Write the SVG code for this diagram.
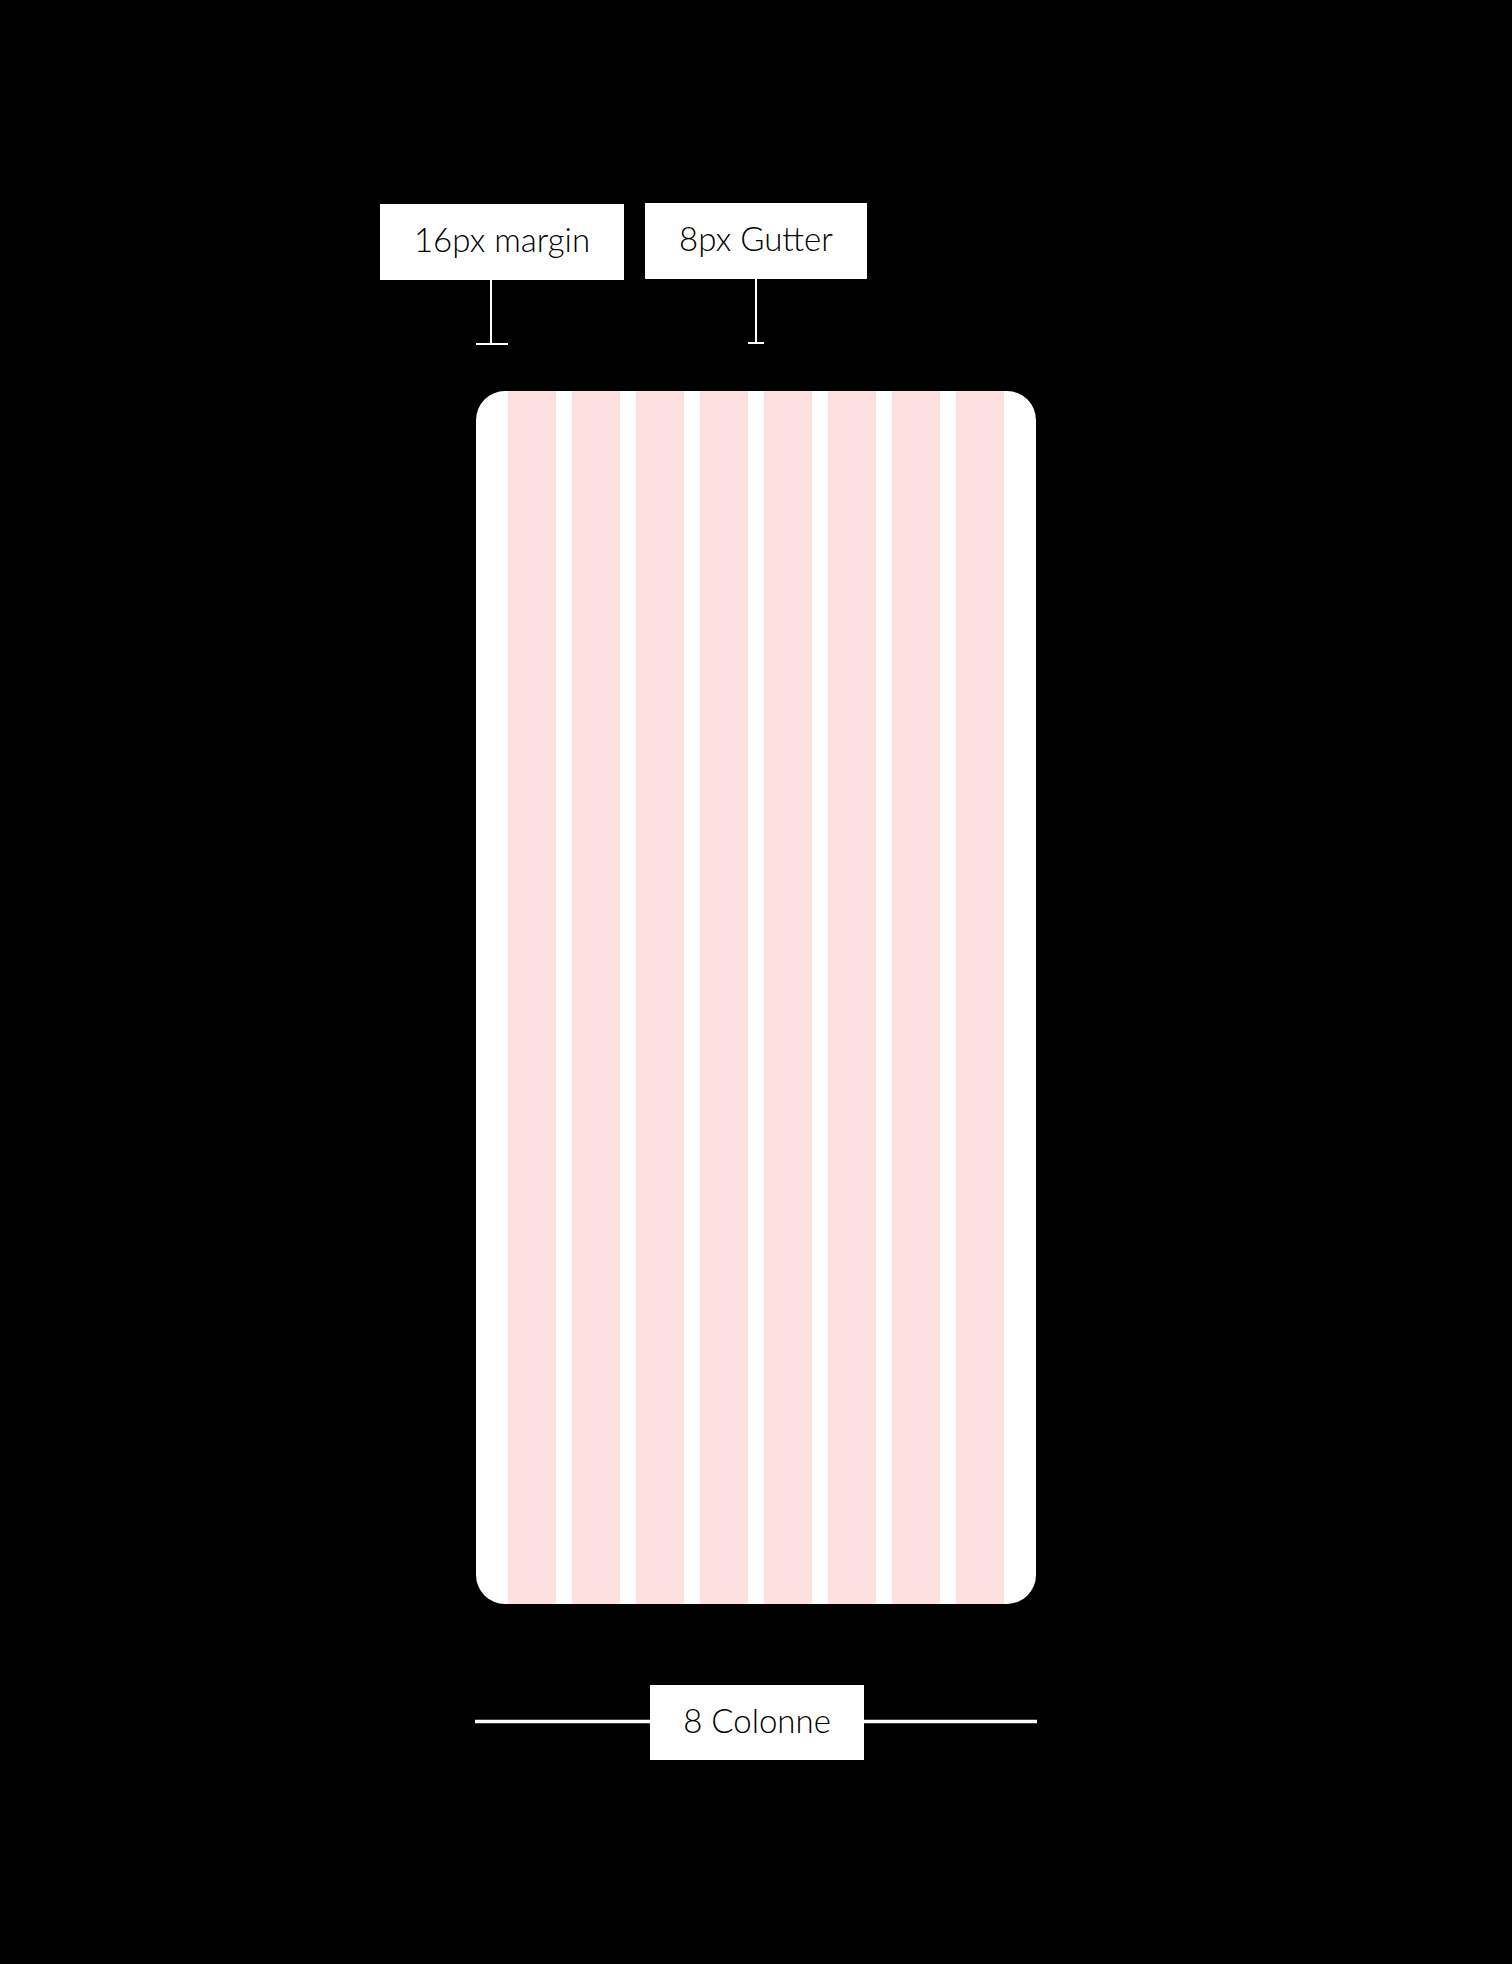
<svg xmlns="http://www.w3.org/2000/svg" width="1512" height="1964" viewBox="0 0 1512 1964">
<style>
.lbl{fill:#ffffff}
.txt{font-family:Lato,"Noto Sans","Liberation Sans",sans-serif;font-size:33px;font-weight:300;fill:#000;text-anchor:middle}
.col{fill:#fde1e1}
.ln{stroke:#ffffff;fill:none}
</style>
<rect x="0" y="0" width="1512" height="1964" fill="#000"/>
<g id="phone">
<rect x="476" y="391" width="560" height="1213" rx="29" ry="29" fill="#fff"/>
<rect class="col" x="508" y="391" width="48" height="1213"/>
<rect class="col" x="572" y="391" width="48" height="1213"/>
<rect class="col" x="636" y="391" width="48" height="1213"/>
<rect class="col" x="700" y="391" width="48" height="1213"/>
<rect class="col" x="764" y="391" width="48" height="1213"/>
<rect class="col" x="828" y="391" width="48" height="1213"/>
<rect class="col" x="892" y="391" width="48" height="1213"/>
<rect class="col" x="956" y="391" width="48" height="1213"/>
</g>
<g id="connectors">
<line class="ln" x1="491" y1="280" x2="491" y2="344" stroke-width="2"/>
<line class="ln" x1="476" y1="344" x2="508" y2="344" stroke-width="2"/>
<line class="ln" x1="756" y1="279" x2="756" y2="343" stroke-width="2"/>
<line class="ln" x1="748" y1="343" x2="764" y2="343" stroke-width="2"/>
<line class="ln" x1="475" y1="1721.5" x2="650" y2="1721.5" stroke-width="3.5"/>
<line class="ln" x1="864" y1="1721.5" x2="1037" y2="1721.5" stroke-width="3.5"/>
</g>
<g id="label-margin">
<rect class="lbl" x="380" y="204" width="244" height="76"/>
<text class="txt" x="502" y="252">16px margin</text>
</g>
<g id="label-gutter">
<rect class="lbl" x="645" y="203" width="222" height="76"/>
<text class="txt" x="756" y="251">8px Gutter</text>
</g>
<g id="label-columns">
<rect class="lbl" x="650" y="1685" width="214" height="75"/>
<text class="txt" x="757" y="1733">8 Colonne</text>
</g>
</svg>
